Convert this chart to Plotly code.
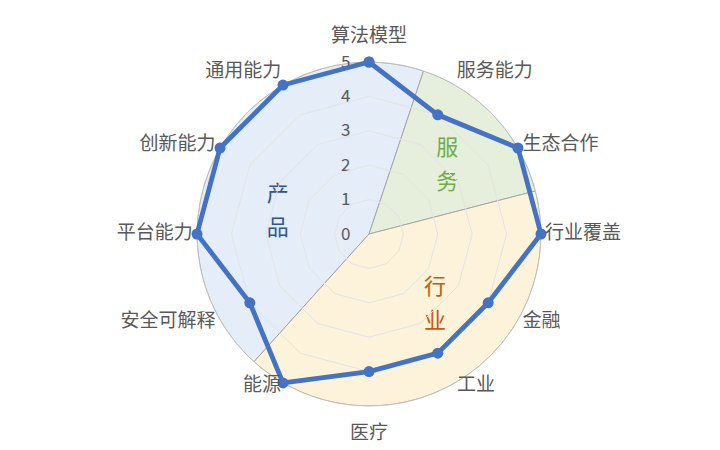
import plotly.graph_objects as go

# 维度与得分
categories = ['算法模型', '服务能力', '生态合作', '行业覆盖', '金融', '工业',
              '医疗', '能源', '安全可解释', '平台能力', '创新能力', '通用能力']
scores = [5, 4, 5, 5, 4, 4, 4, 5, 4, 5, 5, 5]

# 背景分区 (起止角度, 顺时针从正上方起)
group_names = ['产品', '服务', '行业']
group_start = [222, 18.5, 75.5]
group_end = [378.5, 75.5, 222]
group_fill = ['#e5edf8', '#e6eedc', '#fdf3db']
group_text_color = ['#2f5597', '#70ad47', '#c55a11']

radial_ticks = [0, 1, 2, 3, 4, 5]
r_max = 5

# 文字摆放
label_pos = ['top center', 'top right', 'middle right', 'middle right',
             'middle right', 'middle right', 'bottom center', 'middle left',
             'middle left', 'middle left', 'middle left', 'top left']
label_r = [5.45, 5.1, 5.15, 5.12, 5.15, 5.12, 5.55, 5.12, 5.15, 5.12, 5.15, 5.1]
group_label_r = [2.72, 3.01, 2.83]
group_label_theta = [283, 49, 137.3]

label_font = dict(size=19, color='#595959', family='Noto Sans CJK SC')

fig = go.Figure()

# 分区扇形
fig.add_trace(go.Barpolar(
    r=[r_max] * len(group_names),
    theta=[(s + e) / 2 for s, e in zip(group_start, group_end)],
    width=[e - s for s, e in zip(group_start, group_end)],
    marker=dict(color=group_fill, line=dict(color='#a6a6a6', width=1)),
    hoverinfo='skip',
    showlegend=False,
    subplot='polar'
))

# 分区文字 (竖排两字)
for name, r, th, col in zip(group_names, group_label_r, group_label_theta, group_text_color):
    fig.add_trace(go.Scatterpolar(
        r=[r, r],
        theta=[th, th],
        mode='markers+text',
        marker=dict(size=8, opacity=0),
        text=list(name),
        textposition=['top center', 'bottom center'],
        textfont=dict(size=22, color=col, family='Noto Sans CJK SC'),
        hoverinfo='skip',
        showlegend=False,
        subplot='polar'
    ))

# 得分折线
fig.add_trace(go.Scatterpolar(
    r=scores + scores[:1],
    theta=categories + categories[:1],
    mode='lines+markers',
    line=dict(color='#4472c4', width=4.8),
    marker=dict(color='#4472c4', size=11),
    cliponaxis=False,
    showlegend=False,
    subplot='polar2'
))

# 维度标签
fig.add_trace(go.Scatterpolar(
    r=label_r,
    theta=categories,
    mode='text',
    text=categories,
    textposition=label_pos,
    textfont=label_font,
    cliponaxis=False,
    hoverinfo='skip',
    showlegend=False,
    subplot='polar2'
))

# 圆心 (361, 226), 半径 172px 对应 r=5
cx, cy, rad = 361, 226, 172
outer = rad * 6 / 5
domain = dict(x=[(cx - rad) / 720, (cx + rad) / 720],
              y=[(450 - cy - rad) / 450, (450 - cy + rad) / 450])
domain2 = dict(x=[(cx - outer) / 720, (cx + outer) / 720],
               y=[(450 - cy - outer) / 450, (450 - cy + outer) / 450])

fig.update_layout(
    width=720, height=450,
    margin=dict(l=0, r=0, t=0, b=0),
    paper_bgcolor='white',
    polar=dict(
        domain=domain,
        bgcolor='white',
        gridshape='circular',
        angularaxis=dict(type='linear', thetaunit='degrees', rotation=90,
                         direction='clockwise', showticklabels=False,
                         showgrid=False, ticks='', showline=True,
                         linecolor='#bfbfbf', linewidth=1),
        radialaxis=dict(range=[0, r_max], tickvals=radial_ticks, showgrid=False,
                        showline=False, ticks='outside', ticklen=12,
                        tickcolor='rgba(0,0,0,0)', angle=90, tickangle=90,
                        side='counterclockwise',
                        tickfont=dict(size=17, color='#595959', family='Noto Sans CJK SC')),
    ),
    polar2=dict(
        domain=domain2,
        bgcolor='rgba(0,0,0,0)',
        gridshape='linear',
        angularaxis=dict(rotation=90, direction='clockwise', showgrid=False,
                         showline=False, ticks='', showticklabels=False),
        radialaxis=dict(range=[0, 6], tickvals=radial_ticks[1:-1],
                        showticklabels=False, showline=False, ticks='',
                        gridcolor='#e3e3e3', gridwidth=1),
    ),
)

fig.write_html("out.html")
